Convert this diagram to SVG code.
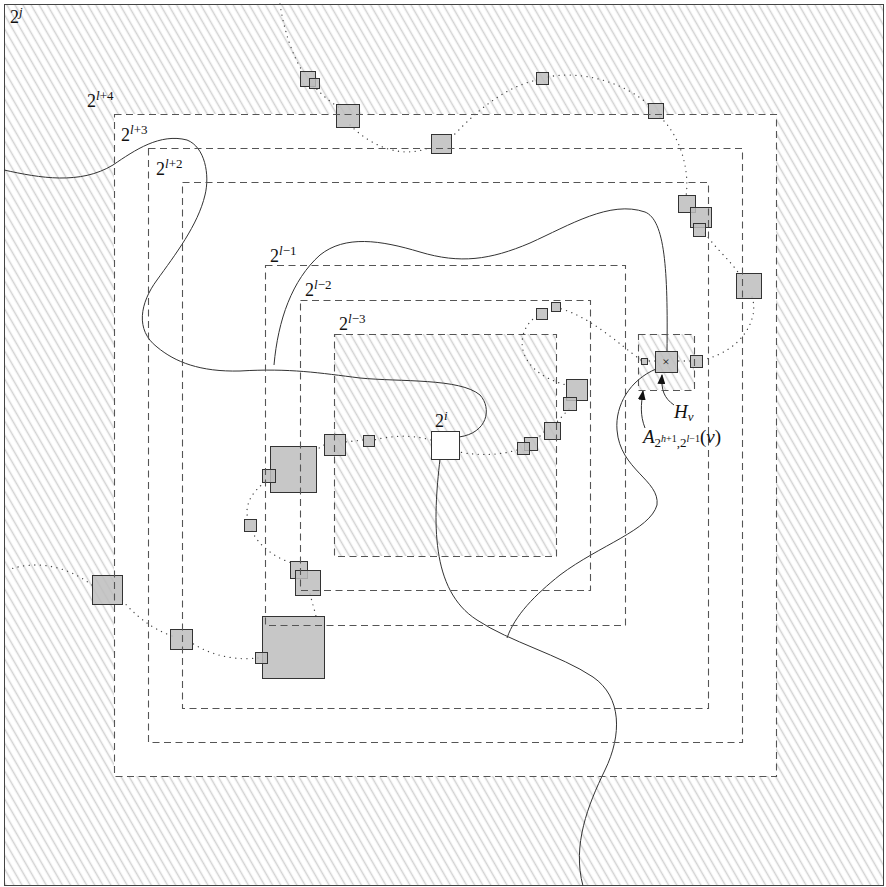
<svg xmlns="http://www.w3.org/2000/svg" width="886" height="887" viewBox="0 0 886 887">
<defs>
<pattern id="hatch" patternUnits="userSpaceOnUse" width="7" height="20" patternTransform="rotate(-30)">
<rect width="7" height="20" fill="#fff"/>
<line x1="3.5" y1="0" x2="3.5" y2="20" stroke="#d2d2d2" stroke-width="1.5"/>
</pattern>
<marker id="ah" viewBox="0 0 10 8" refX="9" refY="4" markerWidth="10" markerHeight="8" markerUnits="userSpaceOnUse" orient="auto">
<path d="M0,0 L10,4 L0,8 Z" fill="#111"/>
</marker>
<style>
.dash{fill:none;stroke:#555;stroke-width:1.1;stroke-dasharray:7 4.5}
.sq{fill:#bdbdbd;fill-opacity:0.85;stroke:#333;stroke-width:1}
.dot{fill:none;stroke:#444;stroke-width:1.3;stroke-dasharray:0.1 5.5;stroke-linecap:round}
.sol{fill:none;stroke:#333;stroke-width:1}
.lbl{font-family:"Liberation Serif","DejaVu Serif",serif;font-size:18px;fill:#111}
.sup{font-size:13px;font-style:italic}
.supr{font-size:13px}
.it{font-style:italic}
</style>
</defs>
<rect x="4.5" y="4.5" width="879" height="881" fill="url(#hatch)" stroke="#444" stroke-width="1"/>
<g id="regions-fill">
<rect x="114" y="114" width="662" height="662" fill="#fff"/>
<rect x="334" y="334" width="222" height="222" fill="url(#hatch)"/>
<rect x="638" y="334" width="56" height="56" fill="url(#hatch)"/>
</g>
<g id="connectors">
<path class="dot" d="M280,4 C284,30 292,55 303,72"/>
<path class="dot" d="M313,85 C322,95 330,102 340,108"/>
<path class="dot" d="M350,125 C370,145 400,160 431,147"/>
<path class="dot" d="M451,138 C470,118 500,88 537,80"/>
<path class="dot" d="M548,77 C580,70 625,82 650,106"/>
<path class="dot" d="M660,117 C680,135 690,170 686,196"/>
<path class="dot" d="M705,233 C715,248 730,260 740,275"/>
<path class="dot" d="M752,297 C760,320 740,352 702,360"/>
<path class="dot" d="M690,361 L677,361"/>
<path class="dot" d="M655,361 L647,361"/>
<path class="dot" d="M641,360 C620,345 590,316 558,308"/>
<path class="dot" d="M537,316 C515,330 512,370 566,385"/>
<path class="dot" d="M569,409 L556,423"/>
<path class="dot" d="M544,432 L537,439"/>
<path class="dot" d="M517,450 C500,455 480,456 459,452"/>
<path class="dot" d="M431,440 C410,434 390,436 374,440"/>
<path class="dot" d="M363,440 L345,442"/>
<path class="dot" d="M324,445 L316,450"/>
<path class="dot" d="M265,482 C252,492 244,505 248,519"/>
<path class="dot" d="M252,531 C258,545 275,558 292,563"/>
<path class="dot" d="M310,594 L316,616"/>
<path class="dot" d="M258,658 C240,660 215,658 192,643"/>
<path class="dot" d="M172,636 C150,628 135,615 122,600"/>
<path class="dot" d="M92,585 C65,565 35,560 8,570"/>
<path class="sol" d="M4,170 C40,178 80,185 113,165 C135,150 160,133 187,140 C205,147 210,175 205,195 C198,225 175,255 157,280 C140,303 135,330 157,347 C175,362 200,372 240,371 C290,368 320,373 360,378 C400,382 460,378 480,395 C492,408 488,433 459,437"/>
<path class="sol" d="M274,365 C278,320 292,280 320,255 C345,235 380,240 420,252 C460,264 490,260 530,243 C570,225 610,200 645,212 C665,220 668,270 667,351"/>
<path class="sol" d="M656,369 C630,380 615,405 617,430 C620,470 660,480 657,505 C650,530 600,545 560,575 C535,595 515,615 507,638"/>
<path class="sol" d="M440,459 C433,520 430,590 477,620 C510,642 560,655 593,677 C622,697 622,735 605,770 C588,805 572,845 583,886"/>
<path class="sol" d="M674,405 C664,398 661,390 662,375" marker-end="url(#ah)"/>
<path class="sol" d="M645,428 C640,415 641,405 643,391" marker-end="url(#ah)"/>
</g>
<g id="sq-a"><rect class="sq" x="300.5" y="71.5" width="15" height="15"/></g>
<g id="sq-b"><rect class="sq" x="309.5" y="78.5" width="10" height="10"/></g>
<g id="sq-c"><rect class="sq" x="336.5" y="104.5" width="23" height="23"/></g>
<g id="sq-d"><rect class="sq" x="431.5" y="134.5" width="20" height="19"/></g>
<g id="sq-e"><rect class="sq" x="536.5" y="72.5" width="12" height="12"/></g>
<g id="sq-f"><rect class="sq" x="648.5" y="103.5" width="15" height="15"/></g>
<g id="sq-g"><rect class="sq" x="678.5" y="195.5" width="17" height="17"/></g>
<g id="sq-h"><rect class="sq" x="690.5" y="207.5" width="21" height="20"/></g>
<g id="sq-i"><rect class="sq" x="693.5" y="223.5" width="12" height="13"/></g>
<g id="sq-j"><rect class="sq" x="736.5" y="273.5" width="25" height="25"/></g>
<g id="sq-k"><rect class="sq" x="690.5" y="355.5" width="12" height="12"/></g>
<g id="sq-hv"><rect class="sq" x="655.5" y="351.5" width="22" height="21"/><text x="666" y="366" class="lbl" text-anchor="middle" style="font-size:13px">×</text></g>
<g id="sq-l"><rect class="sq" x="641.5" y="358.5" width="6" height="6"/></g>
<g id="sq-m"><rect class="sq" x="536.5" y="308.5" width="11" height="11"/></g>
<g id="sq-n"><rect class="sq" x="551.5" y="302.5" width="9" height="9"/></g>
<g id="sq-o"><rect class="sq" x="566.5" y="379.5" width="21" height="21"/></g>
<g id="sq-p"><rect class="sq" x="563.5" y="397.5" width="13" height="13"/></g>
<g id="sq-q"><rect class="sq" x="544.5" y="422.5" width="16" height="17"/></g>
<g id="sq-r"><rect class="sq" x="524.5" y="437.5" width="13" height="13"/></g>
<g id="sq-s"><rect class="sq" x="517.5" y="442.5" width="12" height="12"/></g>
<g id="sq-root"><rect x="431.5" y="431.5" width="28" height="28" fill="#fff" stroke="#333" stroke-width="1"/></g>
<g id="sq-t"><rect class="sq" x="363.5" y="435.5" width="11" height="11"/></g>
<g id="sq-u"><rect class="sq" x="324.5" y="434.5" width="21" height="21"/></g>
<g id="sq-v"><rect class="sq" x="270.5" y="446.5" width="46" height="46"/></g>
<g id="sq-w"><rect class="sq" x="262.5" y="469.5" width="13" height="13"/></g>
<g id="sq-x"><rect class="sq" x="244.5" y="519.5" width="12" height="12"/></g>
<g id="sq-y"><rect class="sq" x="290.5" y="561.5" width="17" height="17"/></g>
<g id="sq-z"><rect class="sq" x="295.5" y="570.5" width="25" height="25"/></g>
<g id="sq-aa"><rect class="sq" x="262.5" y="616.5" width="62" height="62"/></g>
<g id="sq-ab"><rect class="sq" x="255.5" y="652.5" width="12" height="11"/></g>
<g id="sq-ac"><rect class="sq" x="170.5" y="629.5" width="22" height="20"/></g>
<g id="sq-ad"><rect class="sq" x="92.5" y="575.5" width="30" height="29"/></g>
<g id="regions-outline">
<rect class="dash" x="114.5" y="114.5" width="662" height="662"/>
<rect class="dash" x="148.5" y="148.5" width="594" height="594"/>
<rect class="dash" x="182.5" y="182.5" width="526" height="526"/>
<rect class="dash" x="265.5" y="265.5" width="360" height="360"/>
<rect class="dash" x="300.5" y="300.5" width="290" height="290"/>
<rect class="dash" x="334.5" y="334.5" width="222" height="222"/>
<rect class="dash" x="638.5" y="334.5" width="56" height="56"/>
</g>
<g id="labels">
<text class="lbl" x="10" y="23">2<tspan class="sup" dy="-7">j</tspan></text>
<text class="lbl" x="87" y="107">2<tspan class="sup" dy="-7">l</tspan><tspan class="supr">+4</tspan></text>
<text class="lbl" x="121" y="141">2<tspan class="sup" dy="-7">l</tspan><tspan class="supr">+3</tspan></text>
<text class="lbl" x="156" y="175">2<tspan class="sup" dy="-7">l</tspan><tspan class="supr">+2</tspan></text>
<text class="lbl" x="270" y="262">2<tspan class="sup" dy="-7">l</tspan><tspan class="supr">−1</tspan></text>
<text class="lbl" x="305" y="296">2<tspan class="sup" dy="-7">l</tspan><tspan class="supr">−2</tspan></text>
<text class="lbl" x="339" y="330">2<tspan class="sup" dy="-7">l</tspan><tspan class="supr">−3</tspan></text>
<text class="lbl" x="435" y="427">2<tspan class="sup" dy="-7">i</tspan></text>
<text class="lbl it" x="674" y="418" style="font-size:19px">H<tspan style="font-size:13px" dy="3">v</tspan></text>
<text class="lbl" x="643" y="443" style="font-size:19px"><tspan class="it">A</tspan><tspan style="font-size:13px" dy="4">2</tspan><tspan style="font-size:10px;font-style:italic" dy="-5">h</tspan><tspan style="font-size:10px">+1</tspan><tspan style="font-size:13px" dy="5">,2</tspan><tspan style="font-size:10px;font-style:italic" dy="-5">l</tspan><tspan style="font-size:10px">−1</tspan><tspan dy="1">(</tspan><tspan class="it">v</tspan><tspan>)</tspan></text>
</g>
</svg>
